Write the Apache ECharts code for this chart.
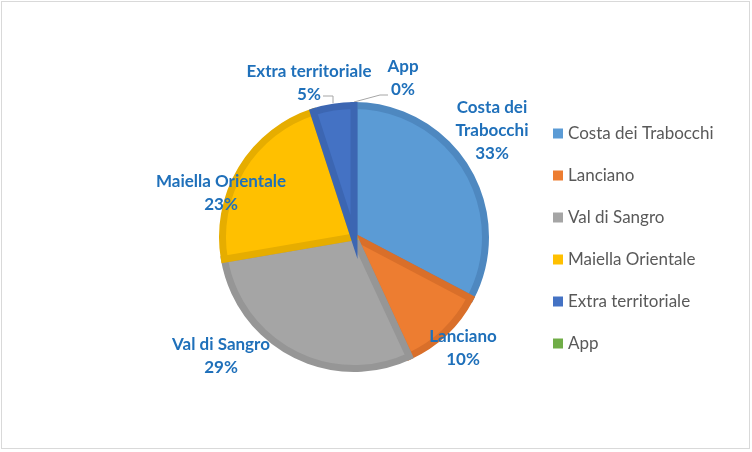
<!DOCTYPE html>
<html><head><meta charset="utf-8">
<script src="https://cdn.jsdelivr.net/npm/echarts@6/dist/echarts.min.js"></script>
<style>
html,body{margin:0;padding:0;background:#fff;}
#wrap{position:relative;width:752px;height:452px;}
#frame{position:absolute;left:1px;top:1px;width:747px;height:446px;border:1px solid #D9D9D9;pointer-events:none;}
#chart{position:absolute;left:0;top:0;width:752px;height:452px;}
</style></head>
<body><div id="wrap"><div id="chart"></div><div id="frame"></div></div>
<script>
const categories = ['Costa dei Trabocchi','Lanciano','Val di Sangro','Maiella Orientale','Extra territoriale','App'];
const values = [32.7, 10.4, 29.2, 22.7, 5.0, 0];
const fillColors = ['#5B9BD5','#ED7D31','#A5A5A5','#FFC000','#4472C4','#70AD47'];
const borderColors = ['#4E88C0','#D96F2A','#969696','#E6AD00','#3C66B2','#5E9A3C'];
const labelNames = ['Costa dei\nTrabocchi','Lanciano','Val di Sangro','Maiella Orientale','Extra territoriale','App'];
// label anchor positions (layout only)
const labelPos = [[492,131],[463,348],[221,356],[221,193],[309,83],[403,78]];

const chart = echarts.init(document.getElementById('chart'), null, {renderer:'canvas'});
chart.setOption({
  animation:false,
  legend:{
    orient:'vertical', left:548, top:120,
    icon:'rect', itemWidth:10, itemHeight:10, itemGap:25, itemStyle:{borderWidth:0},
    textStyle:{fontFamily:'Lato', fontSize:17, color:'#595959', lineHeight:17},
    data:categories, selectedMode:false
  },
  series:[{
    type:'pie',
    center:[354,237],
    radius:131.5,
    startAngle:90,
    clockwise:true,
    avoidLabelOverlap:false,
    emphasis:{disabled:true},
    label:{
      show:true,
      formatter:p => labelNames[p.dataIndex] + '\n' + Math.round(p.percent) + '%',
      fontFamily:'Lato', fontWeight:'bold', fontSize:17, color:'#1F70BA',
      lineHeight:23, align:'center'
    },
    labelLine:{show:true, lineStyle:{color:'#A6A6A6', width:1}},
    labelLayout:function(p){
      const i = p.dataIndex;
      const out = {x:labelPos[i][0], y:labelPos[i][1], align:'center', verticalAlign:'middle'};
      if (i===4) out.labelLinePoints = [[333,103],[333,96],[323,96]];
      else if (i===5) out.labelLinePoints = [[354,102],[380,95],[388,95]];
      else out.labelLinePoints = [[0,0],[0,0],[0,0]];
      return out;
    },
    data:categories.map((n,i)=>({
      name:n, value:values[i],
      itemStyle:{color:fillColors[i], borderColor:borderColors[i], borderWidth: values[i]>0?7:0, borderJoin:'miter'},
      labelLine:{show: i>=4}
    }))
  }]
});
</script></body></html>
